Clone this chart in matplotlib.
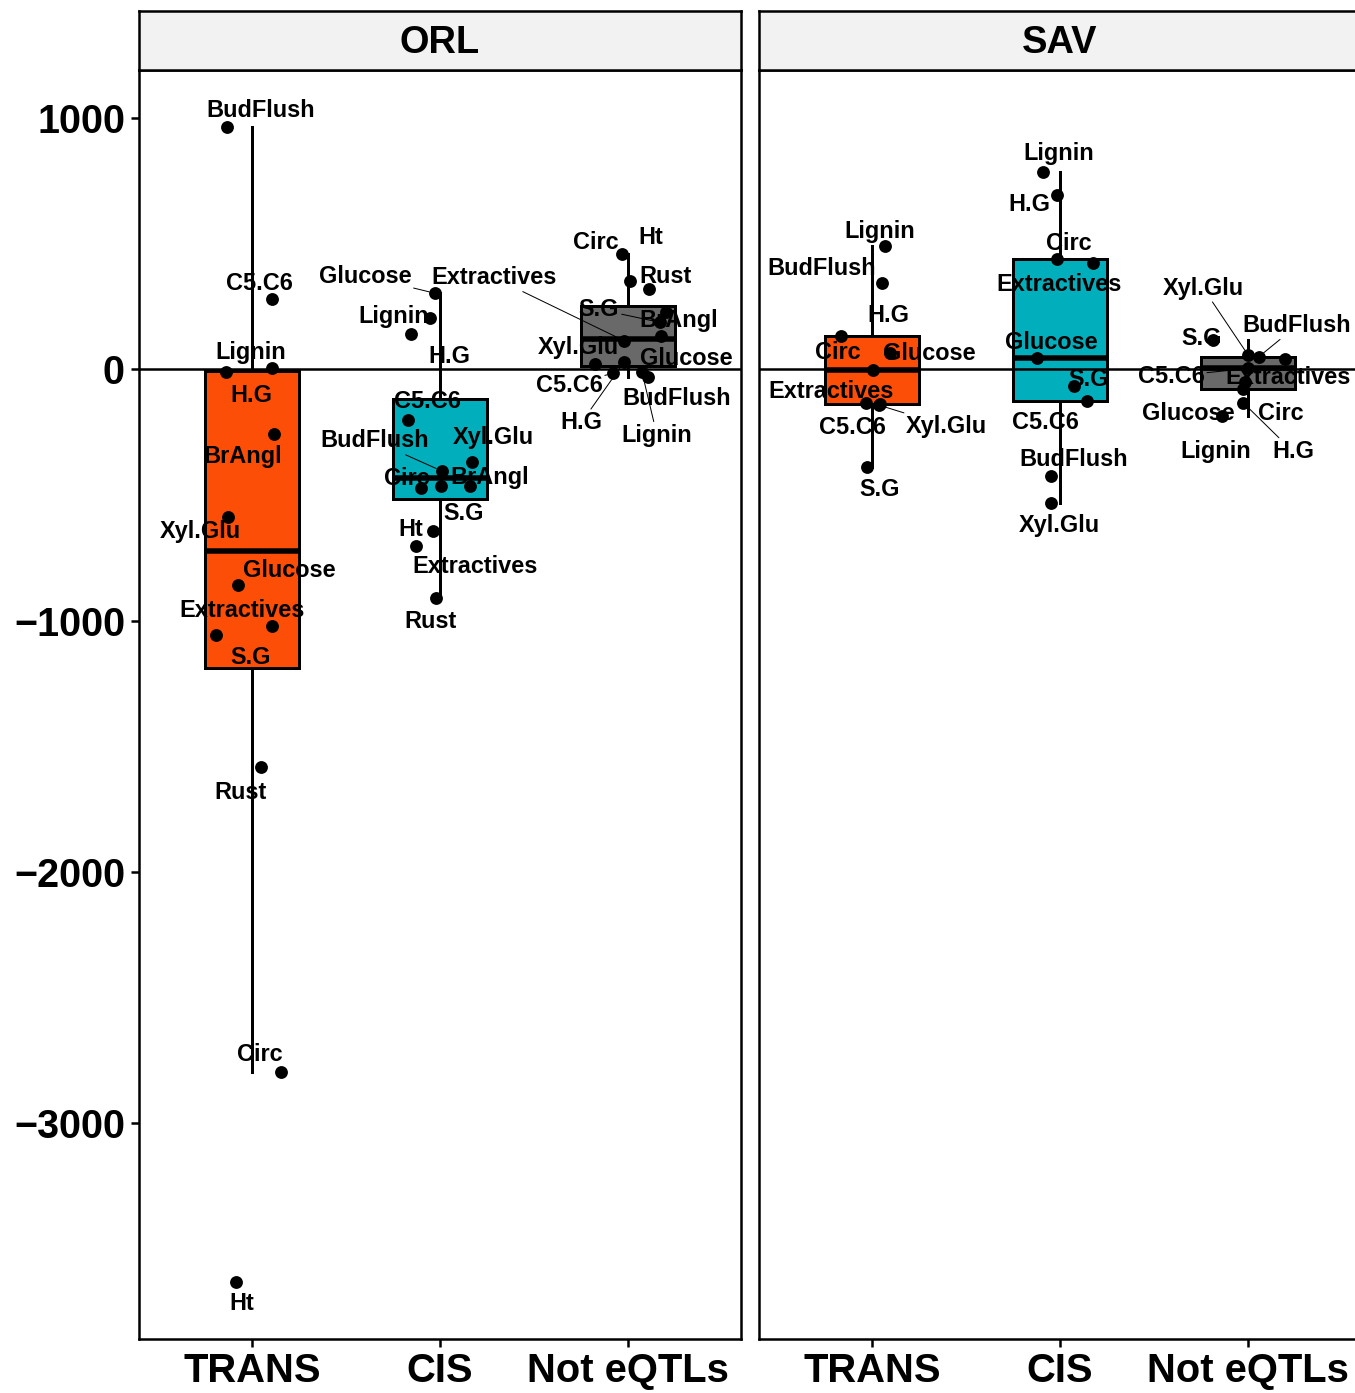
import numpy as np
import matplotlib.pyplot as plt

plt.rcParams['font.family'] = ['Liberation Sans', 'DejaVu Sans']
plt.rcParams['font.weight'] = 'bold'

categories = ["TRANS", "CIS", "Not eQTLs"]
facets = ["ORL", "SAV"]
box_colors = ["#FC4E07", "#00AFBB", "#696969"]
ytick_vals = [1000, 0, -1000, -2000, -3000]
ytick_labels = ["1000", "0", "\u22121000", "\u22122000", "\u22123000"]

# ---- ORL ----
orl_trans_traits = ["BudFlush", "C5.C6", "Lignin", "H.G", "BrAngl", "Xyl.Glu",
                    "Glucose", "Extractives", "S.G", "Rust", "Circ", "Ht"]
orl_trans_vals = [962, 278, 4, -12, -258, -588, -859, -1022, -1058, -1583, -2795, -3630]
orl_trans_jit = [-0.133, 0.106, 0.106, -0.138, 0.117, -0.128, -0.074, 0.106, -0.191, 0.048, 0.154, -0.085]
orl_trans_lab = [(34, 19), (-12, 18), (-21, 18), (25, -21), (-31, -20), (-27, -13),
                 (51, 17), (-30, 18), (35, -20), (-20, -23), (-21, 19), (6, -20)]
orl_trans_lead = []

orl_cis_traits = ["Glucose", "Lignin", "H.G", "C5.C6", "BudFlush", "Xyl.Glu",
                  "Circ", "BrAngl", "S.G", "Ht", "Extractives", "Rust"]
orl_cis_vals = [302, 203, 139, -203, -405, -369, -473, -464, -464, -643, -703, -911]
orl_cis_jit = [-0.027, -0.053, -0.154, -0.170, 0.009, 0.169, -0.101, 0.160, 0.004, -0.037, -0.128, -0.021]
orl_cis_lab = [(-70, 19), (-36, 4), (38, -20), (19, 21), (-67, 32), (22, 26),
               (-14, 12), (20, 10), (23, -26), (-22, 3), (59, -19), (-6, -21)]
orl_cis_lead = ["Glucose", "BudFlush"]

orl_not_traits = ["Circ", "Ht", "Rust", "BrAngl", "S.G", "Extractives",
                  "Glucose", "Xyl.Glu", "C5.C6", "H.G", "BudFlush", "Lignin"]
orl_not_vals = [457, 351, 318, 228, 186, 113, 130, 20, -16, 29, -33, -13]
orl_not_jit = [-0.033, 0.011, 0.112, 0.202, 0.170, -0.021, 0.175, -0.175, -0.080, -0.021, 0.106, 0.074]
orl_not_lab = [(-26, 14), (21, 45), (16, 15), (13, -7), (-61, 15), (-130, 65),
               (25, -20), (-17, 19), (-44, -10), (-43, -59), (29, -19), (15, -61)]
orl_not_lead = ["S.G", "Extractives", "C5.C6", "H.G", "Lignin"]

# ---- SAV ----
sav_trans_traits = ["Lignin", "BudFlush", "Circ", "Glucose", "H.G",
                    "Extractives", "C5.C6", "Xyl.Glu", "S.G"]
sav_trans_vals = [488, 342, 133, 66, -3, -133, -140, -143, -391]
sav_trans_jit = [0.069, 0.053, -0.165, 0.096, 0.005, -0.032, 0.043, 0.037, -0.027]
sav_trans_lab = [(-5, 17), (-60, 17), (-3, -15), (39, 1), (16, 56),
                 (-35, 13), (-28, -21), (68, -19), (13, -20)]
sav_trans_lead = ["Xyl.Glu"]

sav_cis_traits = ["Lignin", "H.G", "Circ", "Extractives", "Glucose",
                  "S.G", "C5.C6", "BudFlush", "Xyl.Glu"]
sav_cis_vals = [785, 692, 437, 424, 46, -69, -126, -424, -533]
sav_cis_jit = [-0.090, -0.016, -0.016, 0.175, -0.122, 0.074, 0.144, -0.048, -0.048]
sav_cis_lab = [(16, 20), (-28, -7), (12, 18), (-34, -20), (14, 17),
               (15, 9), (-42, -20), (23, 18), (8, -20)]
sav_cis_lead = []

sav_not_traits = ["S.G", "Xyl.Glu", "BudFlush", "Extractives", "C5.C6",
                  "Circ", "Lignin", "H.G", "Glucose"]
sav_not_vals = [115, 56, 50, 42, 3, -53, -80, -133, -186]
sav_not_jit = [-0.186, 0.0, 0.058, 0.197, 0.0, -0.016, -0.027, -0.027, -0.138]
sav_not_lab = [(-12, 4), (-45, 69), (38, 33), (3, -17), (-77, -6),
               (36, -29), (-27, -60), (50, -47), (-34, 4)]
sav_not_lead = ["Xyl.Glu", "BudFlush", "C5.C6", "H.G"]

panels = [
    [(orl_trans_traits, orl_trans_vals, orl_trans_jit, orl_trans_lab, orl_trans_lead),
     (orl_cis_traits, orl_cis_vals, orl_cis_jit, orl_cis_lab, orl_cis_lead),
     (orl_not_traits, orl_not_vals, orl_not_jit, orl_not_lab, orl_not_lead)],
    [(sav_trans_traits, sav_trans_vals, sav_trans_jit, sav_trans_lab, sav_trans_lead),
     (sav_cis_traits, sav_cis_vals, sav_cis_jit, sav_cis_lab, sav_cis_lead),
     (sav_not_traits, sav_not_vals, sav_not_jit, sav_not_lab, sav_not_lead)],
]

W, H = 1355, 1393
fig = plt.figure(figsize=(W / 72, H / 72), dpi=72)
panel_left = [139, 759]
panel_w = 602


def draw_group(ax, pos, traits, vals, jit, offs, leads, color):
    ax.boxplot([vals], positions=[pos], widths=0.5, patch_artist=True,
               showfliers=False, showcaps=False, zorder=2,
               boxprops=dict(facecolor=color, edgecolor='black', linewidth=3),
               whiskerprops=dict(color='black', linewidth=3),
               medianprops=dict(color='black', linewidth=5.5))
    xs = pos + np.array(jit)
    ax.scatter(xs, vals, s=165, color='black', linewidths=0, zorder=4)
    for t, x, y, (dx, dy) in zip(traits, xs, vals, offs):
        arrow = None
        if t in leads:
            arrow = dict(arrowstyle='-', color='black', lw=1.0, shrinkA=0, shrinkB=6)
        # va='center' sits a little high vs ggrepel, nudge down 2px
        ax.annotate(t, (x, y), xytext=(dx, dy - 2), textcoords='offset points',
                    ha='center', va='center', fontsize=23.5, fontweight='bold',
                    zorder=5, arrowprops=arrow,
                    bbox=dict(boxstyle='square,pad=0.1', fc='none', ec='none'))


for i, facet in enumerate(facets):
    ax = fig.add_axes([panel_left[i] / W, (H - 1339) / H, panel_w / W, 1269 / H])
    for j, grp in enumerate(panels[i]):
        traits, vals, jit, offs, leads = grp
        draw_group(ax, j + 1, traits, vals, jit, offs, leads, box_colors[j])
    ax.axhline(0, color='black', lw=2.5, zorder=3)
    ax.set_xlim(0.4, 3.6)
    ax.set_ylim(-3858, 1190)
    ax.set_xticks([1, 2, 3])
    ax.set_xticklabels(categories, fontsize=40, fontweight='bold')
    ax.tick_params(axis='x', length=8, width=2.5, pad=5, colors='black')
    if i == 0:
        ax.set_yticks(ytick_vals)
        ax.set_yticklabels(ytick_labels, fontsize=39.5, fontweight='bold')
        ax.tick_params(axis='y', length=8, width=2.5, pad=6)
    else:
        ax.set_yticks([])
    for s in ax.spines.values():
        s.set_linewidth(2.5)

    # facet strip
    sax = fig.add_axes([panel_left[i] / W, (H - 70) / H, panel_w / W, 59 / H])
    sax.set_facecolor('#F2F2F2')
    sax.set_xticks([])
    sax.set_yticks([])
    for s in sax.spines.values():
        s.set_linewidth(2.5)
    sax.text(0.5, 0.45, facet, ha='center', va='center', fontsize=38,
             fontweight='bold', transform=sax.transAxes)

fig.savefig("out.png", dpi=72)
